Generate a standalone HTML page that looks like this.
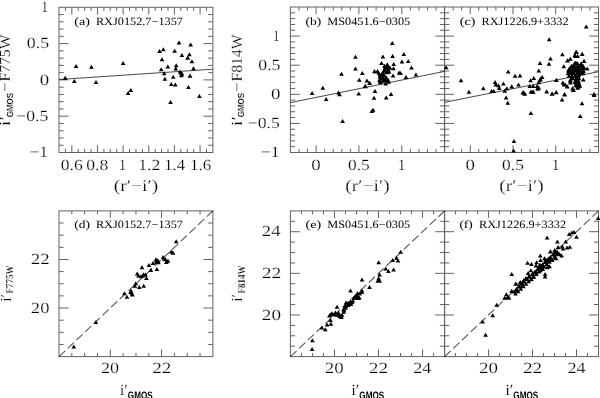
<!DOCTYPE html><html><head><meta charset="utf-8"><style>html,body{margin:0;padding:0;background:#fff;}svg{display:block;will-change:transform;}</style></head><body><svg width="600" height="398" viewBox="0 0 600 398">
<g fill="none" stroke="#000" stroke-width="1" opacity="0.62"><rect x="59.0" y="7.3" width="153.9" height="145.2"/><rect x="290.4" y="7.0" width="154.2" height="145.5"/><rect x="444.6" y="7.0" width="153.9" height="145.5"/><rect x="59.0" y="210.9" width="153.9" height="145.7"/><rect x="290.4" y="210.9" width="154.2" height="145.7"/><rect x="444.6" y="210.9" width="153.9" height="145.7"/><path d="M65.41 7.3v3.6M65.41 152.5v-3.6M71.83 7.3v7.2M71.83 152.5v-7.2M78.24 7.3v3.6M78.24 152.5v-3.6M84.65 7.3v3.6M84.65 152.5v-3.6M91.06 7.3v3.6M91.06 152.5v-3.6M97.48 7.3v7.2M97.48 152.5v-7.2M103.89 7.3v3.6M103.89 152.5v-3.6M110.30 7.3v3.6M110.30 152.5v-3.6M116.71 7.3v3.6M116.71 152.5v-3.6M123.12 7.3v7.2M123.12 152.5v-7.2M129.54 7.3v3.6M129.54 152.5v-3.6M135.95 7.3v3.6M135.95 152.5v-3.6M142.36 7.3v3.6M142.36 152.5v-3.6M148.78 7.3v7.2M148.78 152.5v-7.2M155.19 7.3v3.6M155.19 152.5v-3.6M161.60 7.3v3.6M161.60 152.5v-3.6M168.01 7.3v3.6M168.01 152.5v-3.6M174.43 7.3v7.2M174.43 152.5v-7.2M180.84 7.3v3.6M180.84 152.5v-3.6M187.25 7.3v3.6M187.25 152.5v-3.6M193.66 7.3v3.6M193.66 152.5v-3.6M200.08 7.3v7.2M200.08 152.5v-7.2M206.49 7.3v3.6M206.49 152.5v-3.6M59.0 145.24h4.7M212.9 145.24h-4.7M59.0 137.98h4.7M212.9 137.98h-4.7M59.0 130.72h4.7M212.9 130.72h-4.7M59.0 123.46h4.7M212.9 123.46h-4.7M59.0 116.20h9.4M212.9 116.20h-9.4M59.0 108.94h4.7M212.9 108.94h-4.7M59.0 101.68h4.7M212.9 101.68h-4.7M59.0 94.42h4.7M212.9 94.42h-4.7M59.0 87.16h4.7M212.9 87.16h-4.7M59.0 79.90h9.4M212.9 79.90h-9.4M59.0 72.64h4.7M212.9 72.64h-4.7M59.0 65.38h4.7M212.9 65.38h-4.7M59.0 58.12h4.7M212.9 58.12h-4.7M59.0 50.86h4.7M212.9 50.86h-4.7M59.0 43.60h9.4M212.9 43.60h-9.4M59.0 36.34h4.7M212.9 36.34h-4.7M59.0 29.08h4.7M212.9 29.08h-4.7M59.0 21.82h4.7M212.9 21.82h-4.7M59.0 14.56h4.7M212.9 14.56h-4.7M298.97 7.0v3.6M298.97 152.5v-3.6M307.53 7.0v3.6M307.53 152.5v-3.6M316.10 7.0v7.2M316.10 152.5v-7.2M324.67 7.0v3.6M324.67 152.5v-3.6M333.23 7.0v3.6M333.23 152.5v-3.6M341.80 7.0v3.6M341.80 152.5v-3.6M350.37 7.0v3.6M350.37 152.5v-3.6M358.93 7.0v7.2M358.93 152.5v-7.2M367.50 7.0v3.6M367.50 152.5v-3.6M376.07 7.0v3.6M376.07 152.5v-3.6M384.63 7.0v3.6M384.63 152.5v-3.6M393.20 7.0v3.6M393.20 152.5v-3.6M401.77 7.0v7.2M401.77 152.5v-7.2M410.33 7.0v3.6M410.33 152.5v-3.6M418.90 7.0v3.6M418.90 152.5v-3.6M427.47 7.0v3.6M427.47 152.5v-3.6M436.03 7.0v3.6M436.03 152.5v-3.6M290.4 146.68h4.7M444.6 146.68h-4.7M290.4 140.86h4.7M444.6 140.86h-4.7M290.4 135.04h4.7M444.6 135.04h-4.7M290.4 129.22h4.7M444.6 129.22h-4.7M290.4 123.40h9.4M444.6 123.40h-9.4M290.4 117.58h4.7M444.6 117.58h-4.7M290.4 111.76h4.7M444.6 111.76h-4.7M290.4 105.94h4.7M444.6 105.94h-4.7M290.4 100.12h4.7M444.6 100.12h-4.7M290.4 94.30h9.4M444.6 94.30h-9.4M290.4 88.48h4.7M444.6 88.48h-4.7M290.4 82.66h4.7M444.6 82.66h-4.7M290.4 76.84h4.7M444.6 76.84h-4.7M290.4 71.02h4.7M444.6 71.02h-4.7M290.4 65.20h9.4M444.6 65.20h-9.4M290.4 59.38h4.7M444.6 59.38h-4.7M290.4 53.56h4.7M444.6 53.56h-4.7M290.4 47.74h4.7M444.6 47.74h-4.7M290.4 41.92h4.7M444.6 41.92h-4.7M290.4 36.10h9.4M444.6 36.10h-9.4M290.4 30.28h4.7M444.6 30.28h-4.7M290.4 24.46h4.7M444.6 24.46h-4.7M290.4 18.64h4.7M444.6 18.64h-4.7M290.4 12.82h4.7M444.6 12.82h-4.7M453.15 7.0v3.6M453.15 152.5v-3.6M461.70 7.0v3.6M461.70 152.5v-3.6M470.25 7.0v7.2M470.25 152.5v-7.2M478.80 7.0v3.6M478.80 152.5v-3.6M487.35 7.0v3.6M487.35 152.5v-3.6M495.90 7.0v3.6M495.90 152.5v-3.6M504.45 7.0v3.6M504.45 152.5v-3.6M513.00 7.0v7.2M513.00 152.5v-7.2M521.55 7.0v3.6M521.55 152.5v-3.6M530.10 7.0v3.6M530.10 152.5v-3.6M538.65 7.0v3.6M538.65 152.5v-3.6M547.20 7.0v3.6M547.20 152.5v-3.6M555.75 7.0v7.2M555.75 152.5v-7.2M564.30 7.0v3.6M564.30 152.5v-3.6M572.85 7.0v3.6M572.85 152.5v-3.6M581.40 7.0v3.6M581.40 152.5v-3.6M589.95 7.0v3.6M589.95 152.5v-3.6M444.6 146.68h4.7M598.5 146.68h-4.7M444.6 140.86h4.7M598.5 140.86h-4.7M444.6 135.04h4.7M598.5 135.04h-4.7M444.6 129.22h4.7M598.5 129.22h-4.7M444.6 123.40h9.4M598.5 123.40h-9.4M444.6 117.58h4.7M598.5 117.58h-4.7M444.6 111.76h4.7M598.5 111.76h-4.7M444.6 105.94h4.7M598.5 105.94h-4.7M444.6 100.12h4.7M598.5 100.12h-4.7M444.6 94.30h9.4M598.5 94.30h-9.4M444.6 88.48h4.7M598.5 88.48h-4.7M444.6 82.66h4.7M598.5 82.66h-4.7M444.6 76.84h4.7M598.5 76.84h-4.7M444.6 71.02h4.7M598.5 71.02h-4.7M444.6 65.20h9.4M598.5 65.20h-9.4M444.6 59.38h4.7M598.5 59.38h-4.7M444.6 53.56h4.7M598.5 53.56h-4.7M444.6 47.74h4.7M598.5 47.74h-4.7M444.6 41.92h4.7M598.5 41.92h-4.7M444.6 36.10h9.4M598.5 36.10h-9.4M444.6 30.28h4.7M598.5 30.28h-4.7M444.6 24.46h4.7M598.5 24.46h-4.7M444.6 18.64h4.7M598.5 18.64h-4.7M444.6 12.82h4.7M598.5 12.82h-4.7M71.83 210.9v3.6M71.83 356.6v-3.6M84.65 210.9v3.6M84.65 356.6v-3.6M97.47 210.9v3.6M97.47 356.6v-3.6M110.30 210.9v7.2M110.30 356.6v-7.2M123.12 210.9v3.6M123.12 356.6v-3.6M135.95 210.9v3.6M135.95 356.6v-3.6M148.78 210.9v3.6M148.78 356.6v-3.6M161.60 210.9v7.2M161.60 356.6v-7.2M174.43 210.9v3.6M174.43 356.6v-3.6M187.25 210.9v3.6M187.25 356.6v-3.6M200.07 210.9v3.6M200.07 356.6v-3.6M59.0 344.46h4.7M212.9 344.46h-4.7M59.0 332.32h4.7M212.9 332.32h-4.7M59.0 320.18h4.7M212.9 320.18h-4.7M59.0 308.03h9.4M212.9 308.03h-9.4M59.0 295.89h4.7M212.9 295.89h-4.7M59.0 283.75h4.7M212.9 283.75h-4.7M59.0 271.61h4.7M212.9 271.61h-4.7M59.0 259.47h9.4M212.9 259.47h-9.4M59.0 247.33h4.7M212.9 247.33h-4.7M59.0 235.18h4.7M212.9 235.18h-4.7M59.0 223.04h4.7M212.9 223.04h-4.7M301.41 210.9v3.6M301.41 356.6v-3.6M312.43 210.9v3.6M312.43 356.6v-3.6M323.44 210.9v3.6M323.44 356.6v-3.6M334.46 210.9v7.2M334.46 356.6v-7.2M345.47 210.9v3.6M345.47 356.6v-3.6M356.49 210.9v3.6M356.49 356.6v-3.6M367.50 210.9v3.6M367.50 356.6v-3.6M378.51 210.9v7.2M378.51 356.6v-7.2M389.53 210.9v3.6M389.53 356.6v-3.6M400.54 210.9v3.6M400.54 356.6v-3.6M411.56 210.9v3.6M411.56 356.6v-3.6M422.57 210.9v7.2M422.57 356.6v-7.2M433.59 210.9v3.6M433.59 356.6v-3.6M290.4 346.19h4.7M444.6 346.19h-4.7M290.4 335.79h4.7M444.6 335.79h-4.7M290.4 325.38h4.7M444.6 325.38h-4.7M290.4 314.97h9.4M444.6 314.97h-9.4M290.4 304.56h4.7M444.6 304.56h-4.7M290.4 294.16h4.7M444.6 294.16h-4.7M290.4 283.75h4.7M444.6 283.75h-4.7M290.4 273.34h9.4M444.6 273.34h-9.4M290.4 262.94h4.7M444.6 262.94h-4.7M290.4 252.53h4.7M444.6 252.53h-4.7M290.4 242.12h4.7M444.6 242.12h-4.7M290.4 231.71h9.4M444.6 231.71h-9.4M290.4 221.31h4.7M444.6 221.31h-4.7M455.59 210.9v3.6M455.59 356.6v-3.6M466.59 210.9v3.6M466.59 356.6v-3.6M477.58 210.9v3.6M477.58 356.6v-3.6M488.57 210.9v7.2M488.57 356.6v-7.2M499.56 210.9v3.6M499.56 356.6v-3.6M510.56 210.9v3.6M510.56 356.6v-3.6M521.55 210.9v3.6M521.55 356.6v-3.6M532.54 210.9v7.2M532.54 356.6v-7.2M543.54 210.9v3.6M543.54 356.6v-3.6M554.53 210.9v3.6M554.53 356.6v-3.6M565.52 210.9v3.6M565.52 356.6v-3.6M576.51 210.9v7.2M576.51 356.6v-7.2M587.51 210.9v3.6M587.51 356.6v-3.6M444.6 346.19h4.7M598.5 346.19h-4.7M444.6 335.79h4.7M598.5 335.79h-4.7M444.6 325.38h4.7M598.5 325.38h-4.7M444.6 314.97h9.4M598.5 314.97h-9.4M444.6 304.56h4.7M598.5 304.56h-4.7M444.6 294.16h4.7M598.5 294.16h-4.7M444.6 283.75h4.7M598.5 283.75h-4.7M444.6 273.34h9.4M598.5 273.34h-9.4M444.6 262.94h4.7M598.5 262.94h-4.7M444.6 252.53h4.7M598.5 252.53h-4.7M444.6 242.12h4.7M598.5 242.12h-4.7M444.6 231.71h9.4M598.5 231.71h-9.4M444.6 221.31h4.7M598.5 221.31h-4.7"/></g>
<g stroke="#000" stroke-width="0.9" fill="none" opacity="0.8">
<path d="M59 79.5L212.9 69.2M290.4 102.6L444.6 71.4M444.6 102.3L598.5 71.7"/>
</g>
<g stroke="#000" stroke-width="1.1" fill="none" opacity="0.68"><path d="M59.0 356.6L212.9 210.9" stroke-dasharray="8.47 3.5"/><path d="M290.4 356.6L444.6 210.9" stroke-dasharray="8.48 3.5"/><path d="M444.6 356.6L598.5 210.9" stroke-dasharray="8.47 3.5"/></g>
<path fill="#000" d="M65.20 75.70L67.55 79.70L62.85 79.70ZM76.10 63.90L78.45 67.90L73.75 67.90ZM74.30 79.00L76.65 83.00L71.95 83.00ZM91.40 64.70L93.75 68.70L89.05 68.70ZM96.00 79.90L98.35 83.90L93.65 83.90ZM123.10 60.90L125.45 64.90L120.75 64.90ZM130.80 88.00L133.15 92.00L128.45 92.00ZM128.10 91.00L130.45 95.00L125.75 95.00ZM179.00 40.60L181.35 44.60L176.65 44.60ZM190.70 42.60L193.05 46.60L188.35 46.60ZM159.50 49.10L161.85 53.10L157.15 53.10ZM163.30 47.20L165.65 51.20L160.95 51.20ZM174.60 48.70L176.95 52.70L172.25 52.70ZM181.90 52.90L184.25 56.90L179.55 56.90ZM189.40 52.30L191.75 56.30L187.05 56.30ZM187.90 55.80L190.25 59.80L185.55 59.80ZM191.90 59.20L194.25 63.20L189.55 63.20ZM162.00 57.30L164.35 61.30L159.65 61.30ZM167.80 64.40L170.15 68.40L165.45 68.40ZM176.20 63.30L178.55 67.30L173.85 67.30ZM175.80 66.40L178.15 70.40L173.45 70.40ZM161.20 67.30L163.55 71.30L158.85 71.30ZM193.50 66.20L195.85 70.20L191.15 70.20ZM164.20 71.30L166.55 75.30L161.85 75.30ZM180.00 69.50L182.35 73.50L177.65 73.50ZM181.20 71.10L183.55 75.10L178.85 75.10ZM182.10 71.70L184.45 75.70L179.75 75.70ZM181.40 73.30L183.75 77.30L179.05 77.30ZM173.20 74.80L175.55 78.80L170.85 78.80ZM190.00 73.40L192.35 77.40L187.65 77.40ZM164.90 76.80L167.25 80.80L162.55 80.80ZM171.20 82.00L173.55 86.00L168.85 86.00ZM175.30 82.40L177.65 86.40L172.95 86.40ZM188.40 85.00L190.75 89.00L186.05 89.00ZM199.40 93.90L201.75 97.90L197.05 97.90ZM170.60 100.00L172.95 104.00L168.25 104.00ZM187.60 55.80L189.95 59.80L185.25 59.80ZM190.10 73.70L192.45 77.70L187.75 77.70ZM355.50 54.80L357.85 58.80L353.15 58.80ZM355.50 66.50L357.85 70.50L353.15 70.50ZM362.30 71.00L364.65 75.00L359.95 75.00ZM341.50 71.70L343.85 75.70L339.15 75.70ZM359.30 77.70L361.65 81.70L356.95 81.70ZM367.00 78.45L369.35 82.45L364.65 82.45ZM369.50 81.10L371.85 85.10L367.15 85.10ZM365.00 84.10L367.35 88.10L362.65 88.10ZM322.80 85.70L325.15 89.70L320.45 89.70ZM312.10 91.10L314.45 95.10L309.75 95.10ZM338.60 90.50L340.95 94.50L336.25 94.50ZM339.50 92.20L341.85 96.20L337.15 96.20ZM358.70 91.60L361.05 95.60L356.35 95.60ZM326.20 97.00L328.55 101.00L323.85 101.00ZM342.60 119.00L344.95 123.00L340.25 123.00ZM392.30 40.90L394.65 44.90L389.95 44.90ZM403.80 51.90L406.15 55.90L401.45 55.90ZM382.90 54.60L385.25 58.60L380.55 58.60ZM392.60 54.10L394.95 58.10L390.25 58.10ZM402.00 59.50L404.35 63.50L399.65 63.50ZM408.20 59.00L410.55 63.00L405.85 63.00ZM381.50 60.90L383.85 64.90L379.15 64.90ZM387.30 62.20L389.65 66.20L384.95 66.20ZM393.70 61.90L396.05 65.90L391.35 65.90ZM411.50 65.60L413.85 69.60L409.15 69.60ZM393.50 66.30L395.85 70.30L391.15 70.30ZM385.10 65.40L387.45 69.40L382.75 69.40ZM388.80 64.70L391.15 68.70L386.45 68.70ZM383.80 68.50L386.15 72.50L381.45 72.50ZM387.00 67.90L389.35 71.90L384.65 71.90ZM374.40 69.30L376.75 73.30L372.05 73.30ZM377.20 69.40L379.55 73.40L374.85 73.40ZM399.10 70.60L401.45 74.60L396.75 74.60ZM400.50 71.00L402.85 75.00L398.15 75.00ZM415.90 72.40L418.25 76.40L413.55 76.40ZM393.00 73.40L395.35 77.40L390.65 77.40ZM380.10 72.90L382.45 76.90L377.75 76.90ZM383.20 71.60L385.55 75.60L380.85 75.60ZM406.00 74.90L408.35 78.90L403.65 78.90ZM380.70 76.00L383.05 80.00L378.35 80.00ZM386.30 75.40L388.65 79.40L383.95 79.40ZM388.20 77.90L390.55 81.90L385.85 81.90ZM380.10 79.20L382.45 83.20L377.75 83.20ZM383.80 78.50L386.15 82.50L381.45 82.50ZM385.70 81.40L388.05 85.40L383.35 85.40ZM366.90 78.50L369.25 82.50L364.55 82.50ZM369.80 81.00L372.15 85.00L367.45 85.00ZM365.60 84.20L367.95 88.20L363.25 88.20ZM375.00 89.10L377.35 93.10L372.65 93.10ZM391.00 92.10L393.35 96.10L388.65 96.10ZM374.00 95.80L376.35 99.80L371.65 99.80ZM386.20 95.50L388.55 99.50L383.85 99.50ZM373.10 107.70L375.45 111.70L370.75 111.70ZM371.80 109.10L374.15 113.10L369.45 113.10ZM384.50 63.80L386.85 67.80L382.15 67.80ZM387.50 63.80L389.85 67.80L385.15 67.80ZM390.00 65.80L392.35 69.80L387.65 69.80ZM385.50 66.30L387.85 70.30L383.15 70.30ZM388.50 67.80L390.85 71.80L386.15 71.80ZM384.00 68.80L386.35 72.80L381.65 72.80ZM386.50 70.30L388.85 74.30L384.15 74.30ZM389.00 69.80L391.35 73.80L386.65 73.80ZM381.50 72.30L383.85 76.30L379.15 76.30ZM384.00 73.30L386.35 77.30L381.65 77.30ZM380.00 74.80L382.35 78.80L377.65 78.80ZM383.00 75.80L385.35 79.80L380.65 79.80ZM386.00 75.30L388.35 79.30L383.65 79.30ZM379.50 77.80L381.85 81.80L377.15 81.80ZM382.50 78.80L384.85 82.80L380.15 82.80ZM385.50 77.80L387.85 81.80L383.15 81.80ZM388.00 78.30L390.35 82.30L385.65 82.30ZM380.50 80.30L382.85 84.30L378.15 84.30ZM388.50 79.80L390.85 83.80L386.15 83.80ZM374.50 69.10L376.85 73.10L372.15 73.10ZM377.50 69.10L379.85 73.10L375.15 73.10ZM379.00 71.30L381.35 75.30L376.65 75.30ZM446.10 65.20L448.45 69.20L443.75 69.20ZM508.20 69.60L510.55 73.60L505.85 73.60ZM461.00 78.30L463.35 82.30L458.65 82.30ZM495.10 80.10L497.45 84.10L492.75 84.10ZM495.80 82.50L498.15 86.50L493.45 86.50ZM498.50 83.20L500.85 87.20L496.15 87.20ZM503.40 81.50L505.75 85.50L501.05 85.50ZM499.20 85.90L501.55 89.90L496.85 89.90ZM511.70 84.30L514.05 88.30L509.35 88.30ZM506.80 86.20L509.15 90.20L504.45 90.20ZM504.70 88.70L507.05 92.70L502.35 92.70ZM483.30 86.20L485.65 90.20L480.95 90.20ZM468.90 89.80L471.25 93.80L466.55 93.80ZM491.60 89.00L493.95 93.00L489.25 93.00ZM493.70 89.00L496.05 93.00L491.35 93.00ZM506.10 95.60L508.45 99.60L503.75 99.60ZM507.80 100.80L510.15 104.80L505.45 104.80ZM513.90 138.90L516.25 142.90L511.55 142.90ZM513.60 148.50L515.95 152.50L511.25 152.50ZM550.50 56.40L552.85 60.40L548.15 60.40ZM540.00 60.90L542.35 64.90L537.65 64.90ZM549.00 61.80L551.35 65.80L546.65 65.80ZM538.80 68.40L541.15 72.40L536.45 72.40ZM515.10 73.70L517.45 77.70L512.75 77.70ZM520.00 73.40L522.35 77.40L517.65 77.40ZM533.80 76.00L536.15 80.00L531.45 80.00ZM530.60 78.30L532.95 82.30L528.25 82.30ZM542.20 74.90L544.55 78.90L539.85 78.90ZM540.50 76.80L542.85 80.80L538.15 80.80ZM539.60 77.90L541.95 81.90L537.25 81.90ZM538.80 80.20L541.15 84.20L536.45 84.20ZM556.20 77.90L558.55 81.90L553.85 81.90ZM511.70 84.50L514.05 88.50L509.35 88.50ZM518.50 82.40L520.85 86.40L516.15 86.40ZM529.80 83.90L532.15 87.90L527.45 87.90ZM533.20 83.90L535.55 87.90L530.85 87.90ZM537.10 83.90L539.45 87.90L534.75 87.90ZM538.80 85.60L541.15 89.60L536.45 89.60ZM537.70 86.70L540.05 90.70L535.35 90.70ZM523.00 90.10L525.35 94.10L520.65 94.10ZM524.70 91.80L527.05 95.80L522.35 95.80ZM530.90 89.60L533.25 93.60L528.55 93.60ZM533.20 89.60L535.55 93.60L530.85 93.60ZM546.80 89.60L549.15 93.60L544.45 93.60ZM551.90 91.80L554.25 95.80L549.55 95.80ZM556.20 89.90L558.55 93.90L553.85 93.90ZM586.20 24.40L588.55 28.40L583.85 28.40ZM549.20 37.30L551.55 41.30L546.85 41.30ZM562.40 52.30L564.75 56.30L560.05 56.30ZM576.60 50.00L578.95 54.00L574.25 54.00ZM575.50 54.00L577.85 58.00L573.15 58.00ZM577.70 54.00L580.05 58.00L575.35 58.00ZM582.20 51.70L584.55 55.70L579.85 55.70ZM570.40 56.80L572.75 60.80L568.05 60.80ZM567.50 58.30L569.85 62.30L565.15 62.30ZM583.90 59.10L586.25 63.10L581.55 63.10ZM576.00 60.80L578.35 64.80L573.65 64.80ZM581.10 61.40L583.45 65.40L578.75 65.40ZM575.90 50.10L578.25 54.10L573.55 54.10ZM574.80 52.90L577.15 56.90L572.45 56.90ZM582.10 52.10L584.45 56.10L579.75 56.10ZM567.40 58.50L569.75 62.50L565.05 62.50ZM570.30 56.80L572.65 60.80L567.95 60.80ZM584.20 59.10L586.55 63.10L581.85 63.10ZM563.80 64.20L566.15 68.20L561.45 68.20ZM575.40 61.10L577.75 65.10L573.05 65.10ZM581.00 62.50L583.35 66.50L578.65 66.50ZM573.10 64.20L575.45 68.20L570.75 68.20ZM577.60 64.20L579.95 68.20L575.25 68.20ZM587.20 66.50L589.55 70.50L584.85 70.50ZM582.10 65.30L584.45 69.30L579.75 69.30ZM568.60 67.60L570.95 71.60L566.25 71.60ZM572.00 67.60L574.35 71.60L569.65 71.60ZM575.40 67.00L577.75 71.00L573.05 71.00ZM578.80 68.20L581.15 72.20L576.45 72.20ZM583.30 69.30L585.65 73.30L580.95 73.30ZM569.70 71.00L572.05 75.00L567.35 75.00ZM573.70 70.40L576.05 74.40L571.35 74.40ZM577.60 71.00L579.95 75.00L575.25 75.00ZM582.10 70.40L584.45 74.40L579.75 74.40ZM569.10 73.80L571.45 77.80L566.75 77.80ZM572.00 74.40L574.35 78.40L569.65 78.40ZM577.10 74.40L579.45 78.40L574.75 78.40ZM578.80 72.70L581.15 76.70L576.45 76.70ZM556.40 77.80L558.75 81.80L554.05 81.80ZM570.30 77.80L572.65 81.80L567.95 81.80ZM575.90 77.20L578.25 81.20L573.55 81.20ZM583.30 77.40L585.65 81.40L580.95 81.40ZM570.30 80.60L572.65 84.60L567.95 84.60ZM574.80 80.00L577.15 84.00L572.45 84.00ZM577.60 79.50L579.95 83.50L575.25 83.50ZM562.90 80.60L565.25 84.60L560.55 84.60ZM564.00 82.30L566.35 86.30L561.65 86.30ZM567.40 84.60L569.75 88.60L565.05 88.60ZM575.90 82.90L578.25 86.90L573.55 86.90ZM578.80 81.70L581.15 85.70L576.45 85.70ZM578.20 84.60L580.55 88.60L575.85 88.60ZM572.50 86.30L574.85 90.30L570.15 90.30ZM573.10 88.00L575.45 92.00L570.75 92.00ZM577.60 85.70L579.95 89.70L575.25 89.70ZM556.10 90.20L558.45 94.20L553.75 94.20ZM564.60 92.10L566.95 96.10L562.25 96.10ZM594.00 92.10L596.35 96.10L591.65 96.10ZM523.00 90.40L525.35 94.40L520.65 94.40ZM524.70 91.20L527.05 95.20L522.35 95.20ZM530.90 89.50L533.25 93.50L528.55 93.50ZM532.60 89.90L534.95 93.90L530.25 93.90ZM537.70 85.80L540.05 89.80L535.35 89.80ZM546.60 89.50L548.95 93.50L544.25 93.50ZM552.30 91.60L554.65 95.60L549.95 95.60ZM556.20 89.90L558.55 93.90L553.85 93.90ZM564.60 92.60L566.95 96.60L562.25 96.60ZM562.10 97.60L564.45 101.60L559.75 101.60ZM530.90 111.10L533.25 115.10L528.55 115.10ZM582.00 101.30L584.35 105.30L579.65 105.30ZM580.30 113.90L582.65 117.90L577.95 117.90ZM594.10 92.90L596.45 96.90L591.75 96.90ZM565.50 82.80L567.85 86.80L563.15 86.80ZM567.10 84.50L569.45 88.50L564.75 88.50ZM573.00 86.20L575.35 90.20L570.65 90.20ZM573.50 87.90L575.85 91.90L571.15 91.90ZM578.10 84.80L580.45 88.80L575.75 88.80ZM574.50 61.30L576.85 65.30L572.15 65.30ZM577.50 61.30L579.85 65.30L575.15 65.30ZM571.50 63.80L573.85 67.80L569.15 67.80ZM574.50 63.80L576.85 67.80L572.15 67.80ZM577.50 63.80L579.85 67.80L575.15 67.80ZM580.50 63.80L582.85 67.80L578.15 67.80ZM583.00 63.80L585.35 67.80L580.65 67.80ZM569.50 66.30L571.85 70.30L567.15 70.30ZM572.50 66.30L574.85 70.30L570.15 70.30ZM575.50 66.30L577.85 70.30L573.15 70.30ZM578.50 66.30L580.85 70.30L576.15 70.30ZM581.50 66.30L583.85 70.30L579.15 70.30ZM584.50 66.30L586.85 70.30L582.15 70.30ZM568.50 68.80L570.85 72.80L566.15 72.80ZM571.50 68.80L573.85 72.80L569.15 72.80ZM574.50 68.80L576.85 72.80L572.15 72.80ZM577.50 68.80L579.85 72.80L575.15 72.80ZM580.50 68.80L582.85 72.80L578.15 72.80ZM583.50 68.80L585.85 72.80L581.15 72.80ZM568.00 71.30L570.35 75.30L565.65 75.30ZM571.00 71.30L573.35 75.30L568.65 75.30ZM574.00 71.30L576.35 75.30L571.65 75.30ZM577.00 71.30L579.35 75.30L574.65 75.30ZM580.00 71.30L582.35 75.30L577.65 75.30ZM583.00 71.30L585.35 75.30L580.65 75.30ZM569.00 73.80L571.35 77.80L566.65 77.80ZM572.00 73.80L574.35 77.80L569.65 77.80ZM575.00 73.80L577.35 77.80L572.65 77.80ZM578.00 73.80L580.35 77.80L575.65 77.80ZM572.50 76.30L574.85 80.30L570.15 80.30ZM576.00 76.30L578.35 80.30L573.65 80.30ZM579.00 76.30L581.35 80.30L576.65 80.30ZM570.50 78.80L572.85 82.80L568.15 82.80ZM575.50 78.80L577.85 82.80L573.15 82.80ZM578.50 78.80L580.85 82.80L576.15 82.80ZM576.00 81.30L578.35 85.30L573.65 85.30ZM579.00 81.30L581.35 85.30L576.65 85.30ZM577.00 83.80L579.35 87.80L574.65 87.80ZM580.00 83.80L582.35 87.80L577.65 87.80ZM176.20 239.20L178.55 243.20L173.85 243.20ZM171.30 249.40L173.65 253.40L168.95 253.40ZM173.00 250.70L175.35 254.70L170.65 254.70ZM163.10 255.00L165.45 259.00L160.75 259.00ZM164.00 256.60L166.35 260.60L161.65 260.60ZM168.00 258.80L170.35 262.80L165.65 262.80ZM166.30 259.90L168.65 263.90L163.95 263.90ZM155.90 257.20L158.25 261.20L153.55 261.20ZM157.80 258.20L160.15 262.20L155.45 262.20ZM156.90 260.00L159.25 264.00L154.55 264.00ZM153.00 261.00L155.35 265.00L150.65 265.00ZM149.00 263.00L151.35 267.00L146.65 267.00ZM142.00 265.30L144.35 269.30L139.65 269.30ZM150.90 267.90L153.25 271.90L148.55 271.90ZM156.90 267.00L159.25 271.00L154.55 271.00ZM137.20 271.50L139.55 275.50L134.85 275.50ZM138.50 273.60L140.85 277.60L136.15 277.60ZM142.90 273.60L145.25 277.60L140.55 277.60ZM145.50 272.40L147.85 276.40L143.15 276.40ZM146.40 275.90L148.75 279.90L144.05 279.90ZM135.80 281.20L138.15 285.20L133.45 285.20ZM134.90 283.80L137.25 287.80L132.55 287.80ZM139.30 285.00L141.65 289.00L136.95 289.00ZM143.70 283.80L146.05 287.80L141.35 287.80ZM124.40 291.20L126.75 295.20L122.05 295.20ZM130.60 290.00L132.95 294.00L128.25 294.00ZM132.30 292.60L134.65 296.60L129.95 296.60ZM127.00 294.70L129.35 298.70L124.65 298.70ZM73.80 344.40L76.15 348.40L71.45 348.40ZM95.90 319.90L98.25 323.90L93.55 323.90ZM156.50 258.80L158.85 262.80L154.15 262.80ZM158.50 260.30L160.85 264.30L156.15 264.30ZM143.50 272.30L145.85 276.30L141.15 276.30ZM141.00 274.30L143.35 278.30L138.65 278.30ZM132.00 291.30L134.35 295.30L129.65 295.30ZM131.00 288.80L133.35 292.80L128.65 292.80ZM165.50 257.30L167.85 261.30L163.15 261.30ZM312.40 338.30L314.75 342.30L310.05 342.30ZM312.10 346.90L314.45 350.90L309.75 350.90ZM321.90 325.50L324.25 329.50L319.55 329.50ZM325.30 327.30L327.65 331.30L322.95 331.30ZM327.10 322.50L329.45 326.50L324.75 326.50ZM330.90 321.70L333.25 325.70L328.55 325.70ZM330.50 318.00L332.85 322.00L328.15 322.00ZM330.20 312.70L332.55 316.70L327.85 316.70ZM329.40 313.40L331.75 317.40L327.05 317.40ZM331.70 311.20L334.05 315.20L329.35 315.20ZM335.40 310.40L337.75 314.40L333.05 314.40ZM336.20 312.70L338.55 316.70L333.85 316.70ZM337.70 311.90L340.05 315.90L335.35 315.90ZM340.70 314.20L343.05 318.20L338.35 318.20ZM341.50 314.90L343.85 318.90L339.15 318.90ZM343.70 309.70L346.05 313.70L341.35 313.70ZM343.70 306.70L346.05 310.70L341.35 310.70ZM337.00 304.70L339.35 308.70L334.65 308.70ZM345.20 303.60L347.55 307.60L342.85 307.60ZM346.00 300.60L348.35 304.60L343.65 304.60ZM348.30 302.90L350.65 306.90L345.95 306.90ZM350.50 302.10L352.85 306.10L348.15 306.10ZM352.00 299.90L354.35 303.90L349.65 303.90ZM352.80 298.40L355.15 302.40L350.45 302.40ZM354.30 296.10L356.65 300.10L351.95 300.10ZM355.80 293.80L358.15 297.80L353.45 297.80ZM358.10 296.10L360.45 300.10L355.75 300.10ZM359.60 291.60L361.95 295.60L357.25 295.60ZM361.80 290.10L364.15 294.10L359.45 294.10ZM350.50 288.60L352.85 292.60L348.15 292.60ZM400.70 249.80L403.05 253.80L398.35 253.80ZM392.80 258.00L395.15 262.00L390.45 262.00ZM396.60 255.90L398.95 259.90L394.25 259.90ZM398.00 258.60L400.35 262.60L395.65 262.60ZM378.70 260.30L381.05 264.30L376.35 264.30ZM385.70 266.50L388.05 270.50L383.35 270.50ZM388.40 269.10L390.75 273.10L386.05 273.10ZM393.60 267.40L395.95 271.40L391.25 271.40ZM379.60 272.60L381.95 276.60L377.25 276.60ZM378.70 276.20L381.05 280.20L376.35 280.20ZM377.80 278.80L380.15 282.80L375.45 282.80ZM379.60 278.80L381.95 282.80L377.25 282.80ZM362.00 277.60L364.35 281.60L359.65 281.60ZM369.50 285.00L371.85 289.00L367.15 289.00ZM362.00 288.50L364.35 292.50L359.65 292.50ZM357.60 291.10L359.95 295.10L355.25 295.10ZM354.10 295.50L356.45 299.50L351.75 299.50ZM359.30 295.50L361.65 299.50L356.95 299.50ZM333.00 312.30L335.35 316.30L330.65 316.30ZM338.50 310.80L340.85 314.80L336.15 314.80ZM342.00 312.80L344.35 316.80L339.65 316.80ZM345.50 305.80L347.85 309.80L343.15 309.80ZM348.00 301.30L350.35 305.30L345.65 305.30ZM350.50 299.30L352.85 303.30L348.15 303.30ZM346.00 304.30L348.35 308.30L343.65 308.30ZM355.00 294.80L357.35 298.80L352.65 298.80ZM357.00 293.30L359.35 297.30L354.65 297.30ZM351.00 301.80L353.35 305.80L348.65 305.80ZM344.00 307.80L346.35 311.80L341.65 311.80ZM339.50 313.80L341.85 317.80L337.15 317.80ZM485.60 332.70L487.95 336.70L483.25 336.70ZM482.60 319.50L484.95 323.50L480.25 323.50ZM492.70 313.30L495.05 317.30L490.35 317.30ZM496.70 302.80L499.05 306.80L494.35 306.80ZM506.40 292.20L508.75 296.20L504.05 296.20ZM504.60 295.70L506.95 299.70L502.25 299.70ZM507.30 295.70L509.65 299.70L504.95 299.70ZM509.00 295.40L511.35 299.40L506.65 299.40ZM511.70 288.70L514.05 292.70L509.35 292.70ZM516.10 288.00L518.45 292.00L513.75 292.00ZM516.10 281.70L518.45 285.70L513.75 285.70ZM520.10 280.40L522.45 284.40L517.75 284.40ZM522.20 284.00L524.55 288.00L519.85 288.00ZM511.70 272.10L514.05 276.10L509.35 276.10ZM527.50 260.80L529.85 264.80L525.15 264.80ZM531.50 261.90L533.85 265.90L529.15 265.90ZM540.30 253.50L542.65 257.50L537.95 257.50ZM544.50 256.30L546.85 260.30L542.15 260.30ZM540.50 258.00L542.85 262.00L538.15 262.00ZM536.60 260.20L538.95 264.20L534.25 264.20ZM536.00 263.60L538.35 267.60L533.65 267.60ZM540.00 262.50L542.35 266.50L537.65 266.50ZM538.30 265.90L540.65 269.90L535.95 269.90ZM541.70 264.80L544.05 268.80L539.35 268.80ZM547.30 265.30L549.65 269.30L544.95 269.30ZM549.60 264.20L551.95 268.20L547.25 268.20ZM551.90 258.00L554.25 262.00L549.55 262.00ZM548.50 256.80L550.85 260.80L546.15 260.80ZM550.20 249.50L552.55 253.50L547.85 253.50ZM555.80 255.70L558.15 259.70L553.45 259.70ZM555.20 249.50L557.55 253.50L552.85 253.50ZM557.50 251.20L559.85 255.20L555.15 255.20ZM530.90 268.20L533.25 272.20L528.55 272.20ZM528.10 271.00L530.45 275.00L525.75 275.00ZM532.60 271.60L534.95 275.60L530.25 275.60ZM536.00 269.90L538.35 273.90L533.65 273.90ZM545.10 272.10L547.45 276.10L542.75 276.10ZM545.10 274.40L547.45 278.40L542.75 278.40ZM529.20 273.80L531.55 277.80L526.85 277.80ZM525.80 276.10L528.15 280.10L523.45 280.10ZM531.50 277.20L533.85 281.20L529.15 281.20ZM523.60 278.30L525.95 282.30L521.25 282.30ZM520.20 280.00L522.55 284.00L517.85 284.00ZM515.70 281.70L518.05 285.70L513.35 285.70ZM522.40 281.70L524.75 285.70L520.05 285.70ZM519.00 284.00L521.35 288.00L516.65 288.00ZM523.00 284.00L525.35 288.00L520.65 288.00ZM516.80 288.00L519.15 292.00L514.45 292.00ZM511.70 289.10L514.05 293.10L509.35 293.10ZM540.50 268.20L542.85 272.20L538.15 272.20ZM542.80 267.00L545.15 271.00L540.45 271.00ZM533.20 274.90L535.55 278.90L530.85 278.90ZM598.20 216.10L600.55 220.10L595.85 220.10ZM569.20 232.00L571.55 236.00L566.85 236.00ZM572.00 230.60L574.35 234.60L569.65 234.60ZM574.00 229.90L576.35 233.90L571.65 233.90ZM576.50 234.80L578.85 238.80L574.15 238.80ZM547.10 235.40L549.45 239.40L544.75 239.40ZM557.40 239.60L559.75 243.60L555.05 243.60ZM565.70 239.60L568.05 243.60L563.35 243.60ZM562.30 244.40L564.65 248.40L559.95 248.40ZM558.10 245.10L560.45 249.10L555.75 249.10ZM567.10 245.40L569.45 249.40L564.75 249.40ZM569.90 244.80L572.25 248.80L567.55 248.80ZM563.00 246.50L565.35 250.50L560.65 250.50ZM550.50 249.30L552.85 253.30L548.15 253.30ZM554.70 247.90L557.05 251.90L552.35 251.90ZM556.10 249.30L558.45 253.30L553.75 253.30ZM557.40 249.90L559.75 253.90L555.05 253.90ZM555.40 252.00L557.75 256.00L553.05 256.00ZM559.50 252.00L561.85 256.00L557.15 256.00ZM561.60 253.40L563.95 257.40L559.25 257.40ZM556.10 256.20L558.45 260.20L553.75 260.20ZM551.90 257.60L554.25 261.60L549.55 261.60ZM549.10 256.20L551.45 260.20L546.75 260.20ZM545.70 257.60L548.05 261.60L543.35 261.60ZM547.10 258.90L549.45 262.90L544.75 262.90ZM514.00 289.39L516.35 293.39L511.65 293.39ZM515.60 291.59L517.95 295.59L513.25 295.59ZM516.60 286.93L518.95 290.93L514.25 290.93ZM518.20 289.13L520.55 293.13L515.85 293.13ZM519.20 284.47L521.55 288.47L516.85 288.47ZM520.80 286.67L523.15 290.67L518.45 290.67ZM521.80 282.02L524.15 286.02L519.45 286.02ZM523.40 284.22L525.75 288.22L521.05 288.22ZM524.40 279.56L526.75 283.56L522.05 283.56ZM526.00 281.76L528.35 285.76L523.65 285.76ZM527.00 277.10L529.35 281.10L524.65 281.10ZM528.60 279.30L530.95 283.30L526.25 283.30ZM529.60 274.64L531.95 278.64L527.25 278.64ZM531.20 276.84L533.55 280.84L528.85 280.84ZM532.20 272.18L534.55 276.18L529.85 276.18ZM533.80 274.38L536.15 278.38L531.45 278.38ZM534.80 269.72L537.15 273.72L532.45 273.72ZM536.40 271.92L538.75 275.92L534.05 275.92ZM537.40 267.27L539.75 271.27L535.05 271.27ZM539.00 269.47L541.35 273.47L536.65 273.47ZM540.00 264.81L542.35 268.81L537.65 268.81ZM541.60 267.01L543.95 271.01L539.25 271.01ZM542.60 262.35L544.95 266.35L540.25 266.35ZM544.20 264.55L546.55 268.55L541.85 268.55ZM545.20 259.89L547.55 263.89L542.85 263.89ZM546.80 262.09L549.15 266.09L544.45 266.09ZM547.80 257.43L550.15 261.43L545.45 261.43ZM549.40 259.63L551.75 263.63L547.05 263.63ZM550.40 254.98L552.75 258.98L548.05 258.98ZM552.00 257.18L554.35 261.18L549.65 261.18ZM553.00 252.52L555.35 256.52L550.65 256.52ZM554.60 254.72L556.95 258.72L552.25 258.72ZM555.60 250.06L557.95 254.06L553.25 254.06ZM557.20 252.26L559.55 256.26L554.85 256.26Z"/>
<g fill="#000" stroke="#fff" stroke-width="0.2" opacity="0.999" style="text-rendering:geometricPrecision">
<text x="74.18" y="24.80" font-size="11.2" textLength="15.75" lengthAdjust="spacingAndGlyphs" font-family='"Liberation Serif", serif' stroke-width="0">(a)</text>
<text x="95.95" y="24.80" font-size="11.2" textLength="87.01" lengthAdjust="spacingAndGlyphs" font-family='"Liberation Serif", serif' stroke-width="0">RXJ0152.7−1357</text>
<text x="305.61" y="24.50" font-size="11.2" textLength="15.68" lengthAdjust="spacingAndGlyphs" font-family='"Liberation Serif", serif' stroke-width="0">(b)</text>
<text x="327.35" y="24.50" font-size="11.2" textLength="82.83" lengthAdjust="spacingAndGlyphs" font-family='"Liberation Serif", serif' stroke-width="0">MS0451.6−0305</text>
<text x="459.78" y="24.50" font-size="11.2" textLength="15.75" lengthAdjust="spacingAndGlyphs" font-family='"Liberation Serif", serif' stroke-width="0">(c)</text>
<text x="481.55" y="24.50" font-size="11.2" textLength="87.03" lengthAdjust="spacingAndGlyphs" font-family='"Liberation Serif", serif' stroke-width="0">RXJ1226.9+3332</text>
<text x="74.21" y="228.40" font-size="11.2" textLength="15.68" lengthAdjust="spacingAndGlyphs" font-family='"Liberation Serif", serif' stroke-width="0">(d)</text>
<text x="95.95" y="228.40" font-size="11.2" textLength="87.01" lengthAdjust="spacingAndGlyphs" font-family='"Liberation Serif", serif' stroke-width="0">RXJ0152.7−1357</text>
<text x="305.58" y="228.40" font-size="11.2" textLength="15.75" lengthAdjust="spacingAndGlyphs" font-family='"Liberation Serif", serif' stroke-width="0">(e)</text>
<text x="327.35" y="228.40" font-size="11.2" textLength="82.83" lengthAdjust="spacingAndGlyphs" font-family='"Liberation Serif", serif' stroke-width="0">MS0451.6−0305</text>
<text x="459.41" y="228.40" font-size="11.2" textLength="13.38" lengthAdjust="spacingAndGlyphs" font-family='"Liberation Serif", serif' stroke-width="0">(f)</text>
<text x="479.05" y="228.40" font-size="11.2" textLength="87.03" lengthAdjust="spacingAndGlyphs" font-family='"Liberation Serif", serif' stroke-width="0">RXJ1226.9+3332</text>
<text x="41.48" y="12.00" font-size="15.5" textLength="6.39" lengthAdjust="spacingAndGlyphs" font-family='"Liberation Serif", serif'>1</text>
<text x="272.88" y="40.80" font-size="15.5" textLength="6.39" lengthAdjust="spacingAndGlyphs" font-family='"Liberation Serif", serif'>1</text>
<text x="26.82" y="48.30" font-size="15.5" textLength="22.27" lengthAdjust="spacingAndGlyphs" font-family='"Liberation Serif", serif'>0.5</text>
<text x="258.22" y="69.90" font-size="15.5" textLength="22.27" lengthAdjust="spacingAndGlyphs" font-family='"Liberation Serif", serif'>0.5</text>
<text x="39.68" y="84.60" font-size="15.5" textLength="9.44" lengthAdjust="spacingAndGlyphs" font-family='"Liberation Serif", serif'>0</text>
<text x="271.08" y="99.00" font-size="15.5" textLength="9.44" lengthAdjust="spacingAndGlyphs" font-family='"Liberation Serif", serif'>0</text>
<text x="16.32" y="120.90" font-size="15.5" textLength="32.07" lengthAdjust="spacingAndGlyphs" font-family='"Liberation Serif", serif'>−0.5</text>
<text x="247.72" y="128.10" font-size="15.5" textLength="32.07" lengthAdjust="spacingAndGlyphs" font-family='"Liberation Serif", serif'>−0.5</text>
<text x="29.53" y="157.20" font-size="15.5" textLength="18.51" lengthAdjust="spacingAndGlyphs" font-family='"Liberation Serif", serif'>−1</text>
<text x="260.93" y="157.20" font-size="15.5" textLength="18.51" lengthAdjust="spacingAndGlyphs" font-family='"Liberation Serif", serif'>−1</text>
<text x="60.73" y="169.60" font-size="15.5" textLength="21.99" lengthAdjust="spacingAndGlyphs" font-family='"Liberation Serif", serif'>0.6</text>
<text x="86.23" y="169.60" font-size="15.5" textLength="22.04" lengthAdjust="spacingAndGlyphs" font-family='"Liberation Serif", serif'>0.8</text>
<text x="119.08" y="169.60" font-size="15.5" textLength="6.96" lengthAdjust="spacingAndGlyphs" font-family='"Liberation Serif", serif'>1</text>
<text x="138.25" y="169.60" font-size="15.5" textLength="22.02" lengthAdjust="spacingAndGlyphs" font-family='"Liberation Serif", serif'>1.2</text>
<text x="164.24" y="169.60" font-size="15.5" textLength="20.72" lengthAdjust="spacingAndGlyphs" font-family='"Liberation Serif", serif'>1.4</text>
<text x="190.01" y="169.60" font-size="15.5" textLength="21.20" lengthAdjust="spacingAndGlyphs" font-family='"Liberation Serif", serif'>1.6</text>
<text x="311.28" y="169.80" font-size="15.5" textLength="9.44" lengthAdjust="spacingAndGlyphs" font-family='"Liberation Serif", serif'>0</text>
<text x="347.94" y="169.80" font-size="15.5" textLength="21.74" lengthAdjust="spacingAndGlyphs" font-family='"Liberation Serif", serif'>0.5</text>
<text x="397.65" y="169.80" font-size="15.5" textLength="7.67" lengthAdjust="spacingAndGlyphs" font-family='"Liberation Serif", serif'>1</text>
<text x="465.48" y="169.80" font-size="15.5" textLength="9.44" lengthAdjust="spacingAndGlyphs" font-family='"Liberation Serif", serif'>0</text>
<text x="502.14" y="169.80" font-size="15.5" textLength="21.74" lengthAdjust="spacingAndGlyphs" font-family='"Liberation Serif", serif'>0.5</text>
<text x="551.85" y="169.80" font-size="15.5" textLength="7.67" lengthAdjust="spacingAndGlyphs" font-family='"Liberation Serif", serif'>1</text>
<text x="30.87" y="263.80" font-size="15.5" textLength="18.87" lengthAdjust="spacingAndGlyphs" font-family='"Liberation Serif", serif'>22</text>
<text x="30.89" y="312.70" font-size="15.5" textLength="18.52" lengthAdjust="spacingAndGlyphs" font-family='"Liberation Serif", serif'>20</text>
<text x="100.91" y="373.30" font-size="15.5" textLength="18.08" lengthAdjust="spacingAndGlyphs" font-family='"Liberation Serif", serif'>20</text>
<text x="152.16" y="373.30" font-size="15.5" textLength="19.20" lengthAdjust="spacingAndGlyphs" font-family='"Liberation Serif", serif'>22</text>
<text x="261.86" y="319.58" font-size="15.5" textLength="19.17" lengthAdjust="spacingAndGlyphs" font-family='"Liberation Serif", serif'>20</text>
<text x="261.84" y="278.01" font-size="15.5" textLength="19.54" lengthAdjust="spacingAndGlyphs" font-family='"Liberation Serif", serif'>22</text>
<text x="261.88" y="236.44" font-size="15.5" textLength="18.71" lengthAdjust="spacingAndGlyphs" font-family='"Liberation Serif", serif'>24</text>
<text x="324.77" y="373.30" font-size="15.5" textLength="18.95" lengthAdjust="spacingAndGlyphs" font-family='"Liberation Serif", serif'>20</text>
<text x="368.75" y="373.30" font-size="15.5" textLength="19.31" lengthAdjust="spacingAndGlyphs" font-family='"Liberation Serif", serif'>22</text>
<text x="413.21" y="373.30" font-size="15.5" textLength="18.08" lengthAdjust="spacingAndGlyphs" font-family='"Liberation Serif", serif'>24</text>
<text x="478.97" y="373.30" font-size="15.5" textLength="18.95" lengthAdjust="spacingAndGlyphs" font-family='"Liberation Serif", serif'>20</text>
<text x="522.95" y="373.30" font-size="15.5" textLength="19.31" lengthAdjust="spacingAndGlyphs" font-family='"Liberation Serif", serif'>22</text>
<text x="567.41" y="373.30" font-size="15.5" textLength="18.08" lengthAdjust="spacingAndGlyphs" font-family='"Liberation Serif", serif'>24</text>
<text x="113.85" y="190.70" font-size="16.5" textLength="44.31" lengthAdjust="spacingAndGlyphs" font-family='"Liberation Serif", serif'>(r′−i′)</text>
<text x="345.35" y="190.70" font-size="16.5" textLength="44.31" lengthAdjust="spacingAndGlyphs" font-family='"Liberation Serif", serif'>(r′−i′)</text>
<text x="499.35" y="190.70" font-size="16.5" textLength="44.31" lengthAdjust="spacingAndGlyphs" font-family='"Liberation Serif", serif'>(r′−i′)</text>
<text x="119.65" y="395.00" font-size="15.5" textLength="8.39" lengthAdjust="spacingAndGlyphs" font-family='"Liberation Serif", serif'>i′</text>
<text x="127.87" y="398.70" font-size="10.8" textLength="24.85" lengthAdjust="spacingAndGlyphs" font-family='"Liberation Sans", sans-serif' font-weight="bold" stroke-width="0">GMOS</text>
<text x="351.15" y="395.00" font-size="15.5" textLength="8.39" lengthAdjust="spacingAndGlyphs" font-family='"Liberation Serif", serif'>i′</text>
<text x="359.37" y="398.70" font-size="10.8" textLength="24.85" lengthAdjust="spacingAndGlyphs" font-family='"Liberation Sans", sans-serif' font-weight="bold" stroke-width="0">GMOS</text>
<text x="505.15" y="395.00" font-size="15.5" textLength="8.39" lengthAdjust="spacingAndGlyphs" font-family='"Liberation Serif", serif'>i′</text>
<text x="513.37" y="398.70" font-size="10.8" textLength="24.85" lengthAdjust="spacingAndGlyphs" font-family='"Liberation Sans", sans-serif' font-weight="bold" stroke-width="0">GMOS</text>
<text transform="rotate(-90)" x="-126.23" y="10.40" font-size="15.5" textLength="10.25" lengthAdjust="spacingAndGlyphs" font-family='"Liberation Serif", serif'>i′</text>
<text transform="rotate(-90)" x="-117.33" y="12.70" font-size="9.0" textLength="24.54" lengthAdjust="spacingAndGlyphs" font-family='"Liberation Sans", sans-serif' font-weight="bold">GMOS</text>
<text transform="rotate(-90)" x="-91.83" y="10.40" font-size="15.5" textLength="9.45" lengthAdjust="spacingAndGlyphs" font-family='"Liberation Serif", serif'>−</text>
<text transform="rotate(-90)" x="-81.55" y="10.20" font-size="15.5" textLength="47.08" lengthAdjust="spacingAndGlyphs" font-family='"Liberation Serif", serif'>F775W</text>
<text transform="rotate(-90)" x="-126.23" y="241.80" font-size="15.5" textLength="10.25" lengthAdjust="spacingAndGlyphs" font-family='"Liberation Serif", serif'>i′</text>
<text transform="rotate(-90)" x="-117.33" y="244.10" font-size="9.0" textLength="24.54" lengthAdjust="spacingAndGlyphs" font-family='"Liberation Sans", sans-serif' font-weight="bold">GMOS</text>
<text transform="rotate(-90)" x="-91.83" y="241.80" font-size="15.5" textLength="9.45" lengthAdjust="spacingAndGlyphs" font-family='"Liberation Serif", serif'>−</text>
<text transform="rotate(-90)" x="-81.55" y="241.60" font-size="15.5" textLength="47.08" lengthAdjust="spacingAndGlyphs" font-family='"Liberation Serif", serif'>F814W</text>
<text transform="rotate(-90)" x="-301.83" y="10.80" font-size="15.5" textLength="7.81" lengthAdjust="spacingAndGlyphs" font-family='"Liberation Serif", serif'>i′</text>
<text transform="rotate(-90)" x="-293.55" y="13.10" font-size="10.6" textLength="28.20" lengthAdjust="spacingAndGlyphs" font-family='"Liberation Serif", serif' font-weight="bold">F775W</text>
<text transform="rotate(-90)" x="-301.83" y="242.20" font-size="15.5" textLength="7.81" lengthAdjust="spacingAndGlyphs" font-family='"Liberation Serif", serif'>i′</text>
<text transform="rotate(-90)" x="-293.55" y="244.50" font-size="10.6" textLength="28.20" lengthAdjust="spacingAndGlyphs" font-family='"Liberation Serif", serif' font-weight="bold">F814W</text>
</g>
</svg></body></html>
